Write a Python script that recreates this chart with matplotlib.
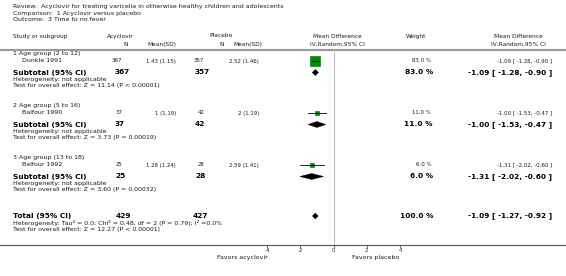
import matplotlib
matplotlib.use("Agg")
import matplotlib.pyplot as plt
from matplotlib.patches import Polygon

plt.rcParams['font.family'] = ['DejaVu Sans']

# ---------------- data ----------------
title_lines = ["Review:  Acyclovir for treating varicella in otherwise healthy children and adolescents",
               "Comparison:  1 Acyclovir versus placebo",
               "Outcome:  3 Time to no fever"]
groups = ["1 Age group (2 to 12)", "2 Age group (5 to 16)", "3 Age group (13 to 18)"]
studies = ["Dunkle 1991", "Balfour 1990", "Balfour 1992"]
acy_n = [367, 37, 25]
acy_msd = ["1.43 (1.15)", "1 (1.19)", "1.28 (1.24)"]
pla_n = [357, 42, 28]
pla_msd = ["2.52 (1.46)", "2 (1.19)", "2.59 (1.41)"]
md = [-1.09, -1.00, -1.31]
md_lo = [-1.28, -1.53, -2.02]
md_hi = [-0.90, -0.47, -0.60]
weights = [83.0, 11.0, 6.0]
sub_md = [-1.09, -1.00, -1.31]
sub_lo = [-1.28, -1.53, -2.02]
sub_hi = [-0.90, -0.47, -0.60]
sub_z = ["Test for overall effect: Z = 11.14 (P < 0.00001)",
         "Test for overall effect: Z = 3.73 (P = 0.00019)",
         "Test for overall effect: Z = 3.60 (P = 0.00032)"]
total_n = [429, 427]
total_md, total_lo, total_hi = -1.09, -1.27, -0.92
total_het = "Heterogeneity: Tau² = 0.0; Chi² = 0.48, df = 2 (P = 0.79); I² =0.0%"
total_z = "Test for overall effect: Z = 12.27 (P < 0.00001)"
xticks = [-4, -2, 0, 2, 4]
fav_left = "Favors acyclovir"
fav_right = "Favors placebo"

# ---------------- layout ----------------
W, H = 566, 276
fig = plt.figure(figsize=(W / 100, H / 100), dpi=100)
ax = fig.add_axes([0, 0, 1, 1])
ax.set_xlim(0, W)
ax.set_ylim(H, 0)
ax.axis('off')

AXY, TOPY = 245, 50
FX0, FX1 = 267, 400
fx = fig.add_axes([FX0 / W, (H - AXY) / H, (FX1 - FX0) / W, (AXY - TOPY) / H])
fx.set_xlim(-4, 4)
fx.set_ylim(AXY, TOPY)
for s in fx.spines.values():
    s.set_visible(False)
fx.patch.set_alpha(0)
fx.set_yticks([])
fx.set_xticks(xticks)
fx.set_xticklabels([str(t) for t in xticks])
fx.tick_params(axis='x', length=2, width=0.5, pad=0.5, labelsize=4.0, colors='#333333')

TC = '#1a1a1a'
note = 4.5
head = 4.2
tiny = 3.9
bold = 5.3
L = 13
IND = 22

# column anchors
N1, M1, N2, M2 = 122, 176, 204, 259
BN1, BN2 = 115, 195

for i, t in enumerate(title_lines):
    ax.text(L, 6.5 + i * 6.7, t, fontsize=note, color=TC, va='center', ha='left')

# headers
hy1, hy2 = 36.5, 44
ax.text(L, hy1, "Study or subgroup", fontsize=head, color=TC, va='center')
ax.text(120, hy1, "Acyclovir", fontsize=head, color=TC, va='center', ha='center')
ax.text(126, hy2, "N", fontsize=head, color=TC, va='center', ha='center')
ax.text(M1, hy2 + 0.7, "Mean(SD)", fontsize=head, color=TC, va='center', ha='right')
ax.text(221, hy1 - 0.8, "Placebo", fontsize=head, color=TC, va='center', ha='center')
ax.text(222, hy2, "N", fontsize=head, color=TC, va='center', ha='center')
ax.text(M2 + 3, hy2 + 0.7, "Mean(SD)", fontsize=head, color=TC, va='center', ha='right')
ax.text(337, hy1, "Mean Difference", fontsize=head, color=TC, va='center', ha='center')
ax.text(337, hy2, "IV,Random,95% CI", fontsize=head, color=TC, va='center', ha='center')
ax.text(416, hy1, "Weight", fontsize=head, color=TC, va='center', ha='center')
ax.text(518, hy1, "Mean Difference", fontsize=head, color=TC, va='center', ha='center')
ax.text(518, hy2, "IV,Random,95% CI", fontsize=head, color=TC, va='center', ha='center')
ax.plot([0, W], [TOPY, TOPY], color='#9a9a9a', lw=1.5, solid_capstyle='butt')

# zero line and axis
fx.axvline(0, color='#c4c4c4', lw=0.8)
ax.plot([0, W], [AXY, AXY], color='#555555', lw=0.8)

group_y = [54, 106, 158]
for i in range(3):
    gy = group_y[i]
    sy = gy + 7
    suby = gy + 18.5
    ax.text(L, gy, groups[i], fontsize=note, color=TC, va='center')
    ax.text(IND, sy, studies[i], fontsize=note, color=TC, va='center')
    ax.text(N1, sy, str(acy_n[i]), fontsize=tiny, color=TC, va='center', ha='right')
    ax.text(M1, sy, acy_msd[i], fontsize=tiny, color=TC, va='center', ha='right')
    ax.text(N2, sy, str(pla_n[i]), fontsize=tiny, color=TC, va='center', ha='right')
    ax.text(M2, sy, pla_msd[i], fontsize=tiny, color=TC, va='center', ha='right')
    ax.text(431, sy, f"{weights[i]:.1f} %", fontsize=tiny, color=TC, va='center', ha='right')
    ax.text(552, sy, f"{md[i]:.2f} [ {md_lo[i]:.2f}, {md_hi[i]:.2f} ]", fontsize=tiny,
            color=TC, va='center', ha='right')
    # study marker
    fx.plot([md_lo[i], md_hi[i]], [sy, sy], color='black', lw=0.6, zorder=3)
    side = 7.5 if weights[i] > 50 else 2.8
    fx.plot([md[i]], [sy], marker='s', ms=side, mfc='#008a00', mec='#006400', mew=0.4, zorder=2)
    # subtotal
    ax.text(L, suby, "Subtotal (95% CI)", fontsize=bold, color='black', va='center', fontweight='bold')
    ax.text(BN1, suby, str(acy_n[i]), fontsize=bold, color='black', va='center', ha='left', fontweight='bold')
    ax.text(BN2, suby, str(pla_n[i]), fontsize=bold, color='black', va='center', ha='left', fontweight='bold')
    ax.text(433, suby, f"{weights[i]:.1f} %", fontsize=bold, color='black', va='center', ha='right', fontweight='bold')
    ax.text(552, suby, f"{sub_md[i]:.2f} [ {sub_lo[i]:.2f}, {sub_hi[i]:.2f} ]", fontsize=bold,
            color='black', va='center', ha='right', fontweight='bold')
    dh = 3.0
    fx.add_patch(Polygon([[sub_lo[i], suby], [sub_md[i], suby - dh], [sub_hi[i], suby],
                          [sub_md[i], suby + dh]], closed=True, fc='black', ec='black', lw=0.3))
    ax.text(L, suby + 7.5, "Heterogeneity: not applicable", fontsize=note, color=TC, va='center')
    ax.text(L, suby + 13.5, sub_z[i], fontsize=note, color=TC, va='center')

ty = 216
ax.text(L, ty, "Total (95% CI)", fontsize=bold, color='black', va='center', fontweight='bold')
ax.text(BN1 + 1, ty, str(total_n[0]), fontsize=bold, color='black', va='center', ha='left', fontweight='bold')
ax.text(BN2 - 2, ty, str(total_n[1]), fontsize=bold, color='black', va='center', ha='left', fontweight='bold')
ax.text(433, ty, f"{sum(weights):.1f} %", fontsize=bold, color='black', va='center', ha='right', fontweight='bold')
ax.text(552, ty, f"{total_md:.2f} [ {total_lo:.2f}, {total_hi:.2f} ]", fontsize=bold,
        color='black', va='center', ha='right', fontweight='bold')
fx.add_patch(Polygon([[total_lo, ty], [total_md, ty - 3], [total_hi, ty], [total_md, ty + 3]],
                     closed=True, fc='black', ec='black', lw=0.3))
ax.text(L, ty + 7.5, total_het, fontsize=note, color=TC, va='center')
ax.text(L, ty + 13.5, total_z, fontsize=note, color=TC, va='center')

ax.text(268, 257, fav_left, fontsize=note, color=TC, va='center', ha='right')
ax.text(352, 257, fav_right, fontsize=note, color=TC, va='center', ha='left')

fig.savefig("out.png", dpi=100)
